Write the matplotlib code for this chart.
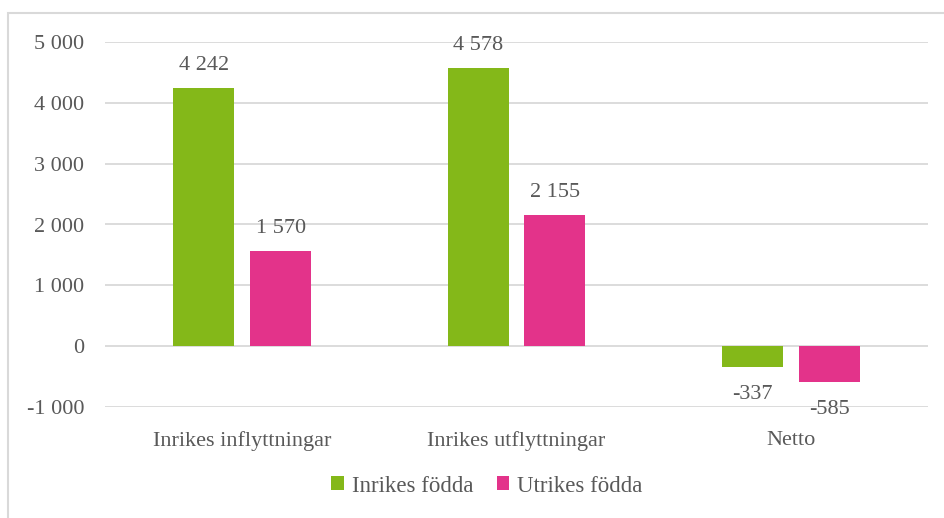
import matplotlib.pyplot as plt
import matplotlib.patches as patches
import numpy as np

# Data
kategorier = ['Inrikes inflyttningar', 'Inrikes utflyttningar', 'Netto']
inrikes_fodda = [4242, 4578, -337]
utrikes_fodda = [1570, 2155, -585]
serier = ['Inrikes födda', 'Utrikes födda']
y_ticks = [-1000, 0, 1000, 2000, 3000, 4000, 5000]

GRON = '#84B819'
ROSA = '#E3338A'
GRA_TEXT = '#595959'
GRID = '#d9d9d9'

plt.rcParams['font.family'] = ['Liberation Serif', 'DejaVu Serif']


def fmt(v):
    s = f'{abs(v):,}'.replace(',', ' ')
    return ('-' if v < 0 else '') + s


fig = plt.figure(figsize=(9.45, 5.18), dpi=100)
ax = fig.add_axes([105 / 945, 1 - 407 / 518, (928 - 105) / 945, (407 - 42) / 518])

x = np.arange(len(kategorier))
w = 0.222
off = 0.14
b1 = ax.bar(x - off, inrikes_fodda, w, color=GRON, label=serier[0], zorder=3)
b2 = ax.bar(x + off, utrikes_fodda, w, color=ROSA, label=serier[1], zorder=3)

# data labels
for bars, vals in [(b1, inrikes_fodda), (b2, utrikes_fodda)]:
    for r, v in zip(bars, vals):
        cx = r.get_x() + r.get_width() / 2
        if v >= 0:
            ax.annotate(fmt(v), (cx, v), xytext=(0, 16), textcoords='offset points',
                        ha='center', va='center', fontsize=16, color=GRA_TEXT)
        else:
            ax.annotate(fmt(v), (cx, v), xytext=(0, -20), textcoords='offset points',
                        ha='center', va='center', fontsize=16, color=GRA_TEXT)

ax.set_xlim(-0.5, len(kategorier) - 0.5)
ax.set_ylim(-1000, 5000)
ax.set_yticks(y_ticks)
ax.set_yticklabels([fmt(t) for t in y_ticks])
ax.set_xticks(x)
ax.set_xticklabels(kategorier)
ax.tick_params(axis='y', length=0, pad=15, labelsize=16, labelcolor=GRA_TEXT)
ax.tick_params(axis='x', length=0, pad=17, labelsize=16, labelcolor=GRA_TEXT)
ax.grid(axis='y', color=GRID, lw=1.3, zorder=0)
for s in ax.spines.values():
    s.set_visible(False)

leg = fig.legend(loc='center', bbox_to_anchor=(487 / 945, 1 - 486 / 518), ncol=2, frameon=False,
                 fontsize=16.5, handlelength=0.55, handleheight=0.55, handletextpad=0.35,
                 columnspacing=1.0)
for t in leg.get_texts():
    t.set_color(GRA_TEXT)

# chart border
fig.patches.append(patches.Rectangle((8 / 945, -0.1), 1.2, 1 - 13 / 518 + 0.1,
                                     transform=fig.transFigure, fill=False,
                                     edgecolor=GRID, lw=1.5))

fig.savefig('out.png', dpi=100)
